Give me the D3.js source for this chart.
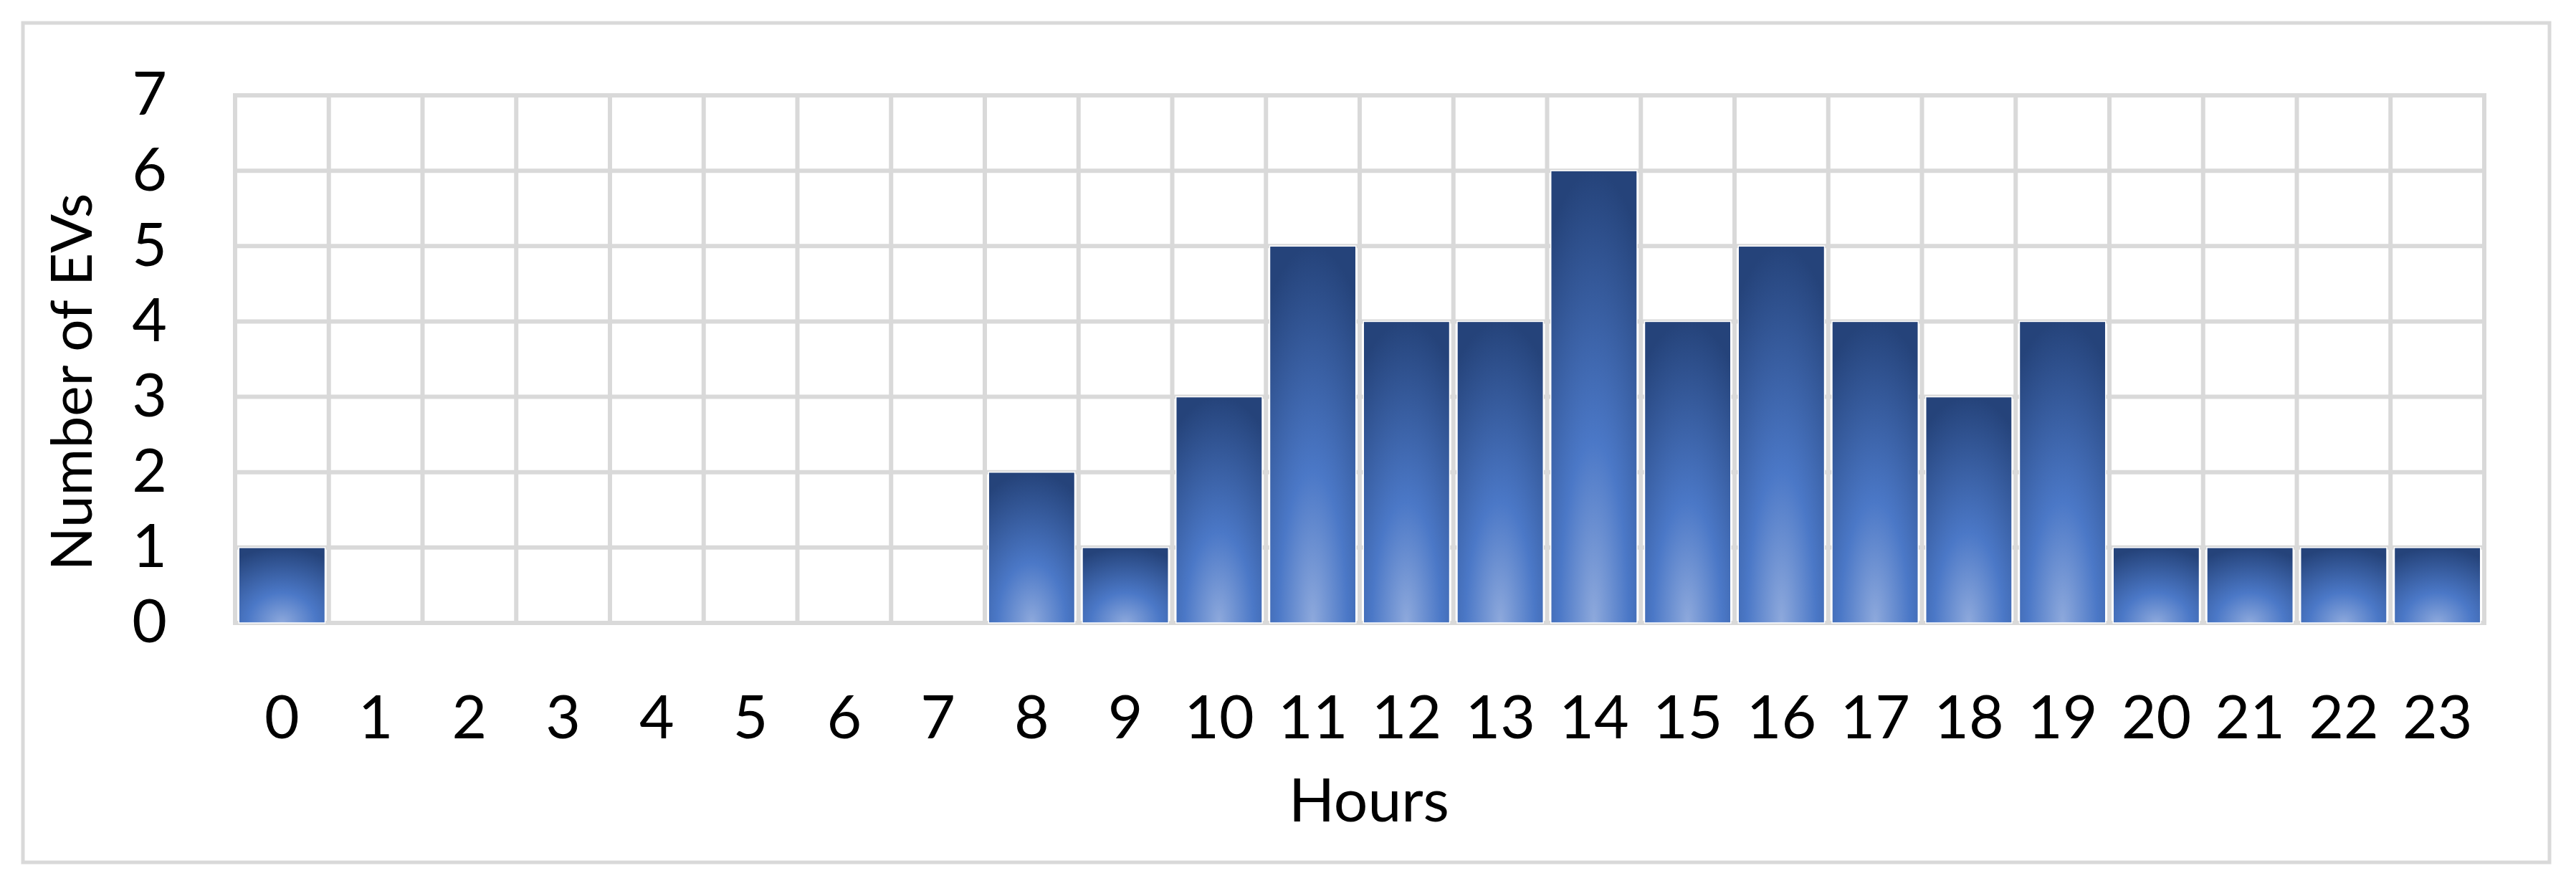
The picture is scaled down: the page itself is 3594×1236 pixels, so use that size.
<!DOCTYPE html>
<html>
<head>
<meta charset="utf-8">
<script src="https://cdn.jsdelivr.net/npm/d3@7"></script>
<style>
    body { margin: 0; background: #fff; }
    text { font-family: Lato, "Noto Sans", sans-serif; fill: #000; }
</style>
</head>
<body>
<div class="svg-container"></div>
<script>
// Data
const hours = ["0", "1", "2", "3", "4", "5", "6", "7", "8", "9", "10", "11",
    "12", "13", "14", "15", "16", "17", "18", "19", "20", "21", "22", "23"];
const evCounts = [1, 0, 0, 0, 0, 0, 0, 0, 2, 1, 3, 5, 4, 4, 6, 4, 5, 4, 3, 4, 1, 1, 1, 1];
const yTicks = [0, 1, 2, 3, 4, 5, 6, 7];

// Layout
const canvasWidth = 3594;
const canvasHeight = 1236;
const plot = { left: 328, right: 3466, top: 133, bottom: 869 };
const gridColor = "#d9d9d9";
const gridWidth = 6;
const fontSize = 84;

const svg = d3.select(".svg-container")
    .append("svg")
    .attr("width", canvasWidth)
    .attr("height", canvasHeight);

// Outer chart border
svg.append("rect")
    .attr("x", 32)
    .attr("y", 32)
    .attr("width", 3525)
    .attr("height", 1171)
    .attr("fill", "#fff")
    .attr("stroke", gridColor)
    .attr("stroke-width", 5);

// Scales
const xScale = d3.scaleBand()
    .domain(hours)
    .range([plot.left, plot.right])
    .paddingInner(0.08)
    .paddingOuter(0.04);
const yScale = d3.scaleLinear()
    .domain([0, 7])
    .range([plot.bottom, plot.top]);

// Bar gradient (dark top, light glow at bottom centre)
const defs = svg.append("defs");
const grad = defs.append("radialGradient")
    .attr("id", "barFill")
    .attr("cx", 0.5).attr("cy", 1)
    .attr("fx", 0.5).attr("fy", 1)
    .attr("r", 1);
grad.append("stop").attr("offset", "0%").attr("stop-color", "#8ea9dc");
grad.append("stop").attr("offset", "40%").attr("stop-color", "#4b78c7");
grad.append("stop").attr("offset", "100%").attr("stop-color", "#25437a");

// Gridlines
const cellEdge = (d) => xScale(d) - (xScale.step() - xScale.bandwidth()) / 2;
const vLines = hours.map(cellEdge).concat([plot.right]);

svg.append("g")
    .selectAll("line")
    .data(yTicks)
    .enter()
    .append("line")
    .attr("x1", plot.left - gridWidth / 2)
    .attr("x2", plot.right + gridWidth / 2)
    .attr("y1", (d) => yScale(d))
    .attr("y2", (d) => yScale(d))
    .attr("stroke", gridColor)
    .attr("stroke-width", gridWidth);

svg.append("g")
    .selectAll("line")
    .data(vLines)
    .enter()
    .append("line")
    .attr("x1", (d) => d)
    .attr("x2", (d) => d)
    .attr("y1", plot.top)
    .attr("y2", plot.bottom)
    .attr("stroke", gridColor)
    .attr("stroke-width", gridWidth);

// Bars
const barData = hours
    .map((h, i) => ({ hour: h, count: evCounts[i] }))
    .filter((d) => d.count > 0);

svg.append("g")
    .selectAll("rect")
    .data(barData)
    .enter()
    .append("rect")
    .attr("x", (d) => xScale(d.hour))
    .attr("y", (d) => yScale(d.count))
    .attr("width", xScale.bandwidth())
    .attr("height", (d) => yScale(0) - yScale(d.count))
    .attr("fill", "url(#barFill)")
    .attr("stroke", "#fff")
    .attr("stroke-width", 1.5);

// Axes
const yAxis = svg.append("g")
    .attr("transform", `translate(${plot.left}, 0)`)
    .call(d3.axisLeft(yScale).tickValues(yTicks).tickFormat(d3.format("d"))
        .tickSize(0).tickPadding(95));
const xAxis = svg.append("g")
    .attr("transform", `translate(0, ${plot.bottom})`)
    .call(d3.axisBottom(xScale).tickSize(0).tickPadding(101));

[yAxis, xAxis].forEach((g) => {
    g.select(".domain").remove();
    g.selectAll("text")
        .attr("font-size", fontSize)
        .attr("font-family", "Lato, 'Noto Sans', sans-serif")
        .attr("fill", "#000");
});

// Axis titles
svg.append("text")
    .attr("x", 1910)
    .attr("y", 1146)
    .attr("text-anchor", "middle")
    .attr("font-size", fontSize)
    .text("Hours");

svg.append("text")
    .attr("transform", "translate(128, 533) rotate(-90)")
    .attr("text-anchor", "middle")
    .attr("font-size", 80)
    .text("Number of EVs");
</script>
</body>
</html>
